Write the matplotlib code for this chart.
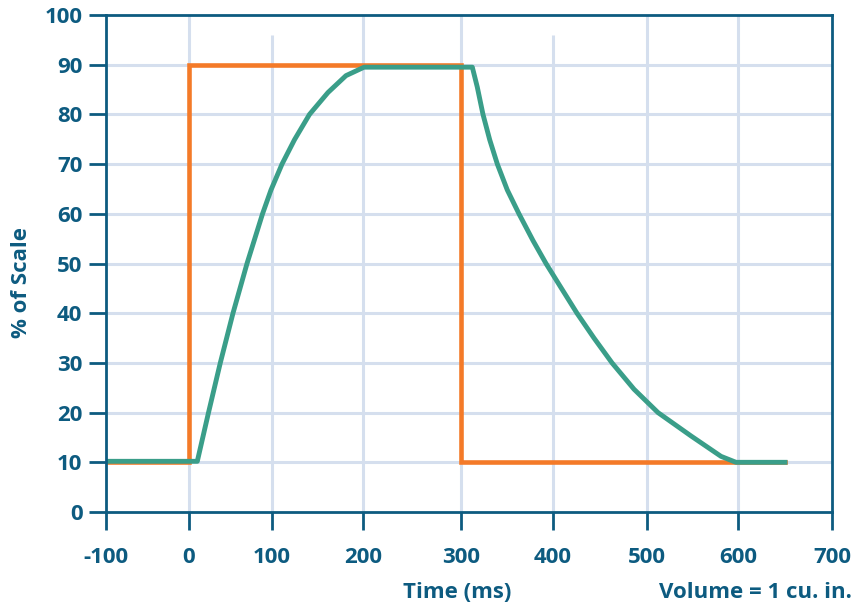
import numpy as np
import matplotlib
matplotlib.use("Agg")
import matplotlib.pyplot as plt

# data
x_ticks = [-100, 0, 100, 200, 300, 400, 500, 600, 700]
y_ticks = [0, 10, 20, 30, 40, 50, 60, 70, 80, 90, 100]

command_x = [-100, 0, 0, 300, 300, 650]
command_y = [10, 10, 90, 90, 10, 10]

# rise, hold, decay of the measured response
response_x = [-100, 10, 23.5, 37.7, 53, 69.9, 88.6, 98.8, 111, 124.7,
              141.2, 161.5, 181.3, 201.1,
              312.3, 317.7, 323.9, 331.2, 339.5, 350.3, 363, 378.3, 392.4,
              408, 425.5, 443.6, 462.8, 486.2, 512.1, 548.4, 581.3, 597.8, 650]
response_y = [10.2, 10.2, 20, 30, 40, 50, 60, 64.8, 70, 74.9,
              80, 84.4, 87.8, 89.5,
              89.5, 85.5, 80, 74.9, 70, 64.8, 60, 54.6, 50,
              45.3, 40, 35, 30, 24.7, 20, 15.3, 11.2, 10, 10]

# the original x axis is drawn with uneven spacing between ticks
tick_px = [107, 190, 273, 364, 462, 554, 648, 739, 833]

def fwd(v):
    return np.interp(v, x_ticks, tick_px)

def inv(v):
    return np.interp(v, tick_px, x_ticks)

plt.rcParams['font.family'] = ['Open Sans', 'DejaVu Sans']
plt.rcParams['font.weight'] = 'bold'

navy = '#0D5B80'
grid_c = '#D5DFEE'
orange = '#F47A28'
teal = '#3A9E89'

fig = plt.figure(figsize=(8.54, 6.04), dpi=100)
ax = fig.add_axes([106 / 854, 92 / 604, 726 / 854, 497 / 604])
ax.set_xscale('function', functions=(fwd, inv))
ax.set_xlim(-100, 700)
ax.set_ylim(0, 100)

# grid (two of the vertical lines stop short of the top in the original)
for xv in x_ticks[1:-1]:
    top = 96 if xv in (100, 400) else 100
    ax.vlines(xv, 0, top, color=grid_c, lw=2.2, zorder=1)
for yv in y_ticks[1:-1]:
    ax.hlines(yv, -100, 700, color=grid_c, lw=2.2, zorder=1)

ax.plot(command_x, command_y, color=orange, lw=3.3, zorder=3,
        solid_joinstyle='miter')
ax.plot(response_x, response_y, color=teal, lw=3.5, zorder=4,
        solid_joinstyle='round')

ax.set_xticks(x_ticks)
ax.set_yticks(y_ticks)
ax.set_xticklabels([str(v) for v in x_ticks])
ax.tick_params(axis='x', direction='out', length=13, width=2, color=navy,
               labelcolor=navy, labelsize=16, pad=12)
ax.tick_params(axis='y', direction='out', length=12, width=2, color=navy,
               labelcolor=navy, labelsize=16, pad=5)
for lab in ax.get_xticklabels() + ax.get_yticklabels():
    lab.set_fontweight('bold')

for s in ax.spines.values():
    s.set_color(navy)
    s.set_linewidth(2)
    s.set_zorder(5)

fig.text(457 / 854, 6 / 604, 'Time (ms)', ha='center', va='baseline',
         fontsize=16, fontweight='bold', color=navy)
fig.text(852 / 854, 6 / 604, 'Volume = 1 cu. in.', ha='right', va='baseline',
         fontsize=16, fontweight='bold', color=navy)
fig.text(22 / 854, 322 / 604, '% of Scale', ha='center', va='center',
         rotation=90, fontsize=16, fontweight='bold', color=navy)

fig.savefig('out.png', dpi=100)
